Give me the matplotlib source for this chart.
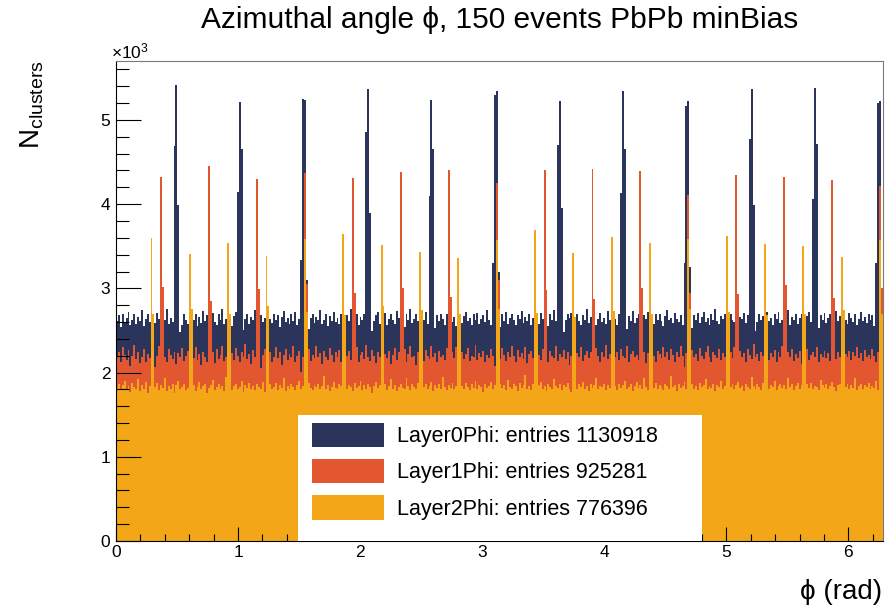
import numpy as np
import matplotlib
matplotlib.use("Agg")
import matplotlib.pyplot as plt
from matplotlib.patches import Patch, Rectangle

plt.rcParams['font.family'] = ['Liberation Sans', 'DejaVu Sans']
plt.rcParams['mathtext.fontset'] = 'custom'
plt.rcParams['mathtext.rm'] = 'Liberation Sans'
plt.rcParams['mathtext.it'] = 'Liberation Sans'

n_bins = 400
edges = np.linspace(0, 2 * np.pi, n_bins + 1)

# Layer 0 (12 staves), counts per bin without the stave-overlap spikes
layer0_base = [
    2610, 2680, 2540, 2700, 2590, 2650, 2720, 2560, 2630, 2690, 2580, 2660, 2610, 2740, 2550, 2640, 2700, 2600, 2670, 2520,
    2590, 2710, 2640, 2560, 2680, 2620, 2750, 2580, 2650, 2600, 2690, 2600, 2600, 2480, 2560, 2700, 2630, 2580, 2670, 2620,
    2620, 2700, 2550, 2660, 2590, 2730, 2610, 2680, 2540, 2650, 2710, 2600, 2570, 2690, 2630, 2760, 2580, 2640, 2690, 2610,
    2550, 2670, 2720, 2600, 2600, 2600, 2510, 2640, 2700, 2580, 2660, 2620, 2740, 2570, 2630, 2680, 2600, 2650, 2710, 2560,
    2640, 2590, 2700, 2620, 2680, 2540, 2660, 2730, 2600, 2650, 2580, 2690, 2610, 2720, 2570, 2640, 2600, 2600, 2600, 2600,
    2520, 2650, 2700, 2590, 2660, 2620, 2740, 2580, 2630, 2690, 2550, 2670, 2610, 2720, 2600, 2650, 2580, 2700, 2640, 2560,
    2680, 2610, 2750, 2590, 2640, 2700, 2570, 2660, 2620, 2690, 2600, 2600, 2600, 2490, 2610, 2680, 2720, 2580, 2650, 2600,
    2710, 2560, 2640, 2690, 2620, 2580, 2730, 2650, 2600, 2670, 2540, 2690, 2620, 2760, 2590, 2640, 2700, 2610, 2570, 2680,
    2630, 2720, 2580, 2650, 2600, 2600, 2530, 2680, 2610, 2700, 2640, 2570, 2690, 2620, 2740, 2600, 2660, 2550, 2700, 2630,
    2590, 2670, 2720, 2610, 2650, 2560, 2690, 2630, 2710, 2580, 2640, 2680, 2600, 2740, 2620, 2570, 2660, 2600, 2600, 2600,
    2540, 2690, 2610, 2720, 2580, 2650, 2700, 2620, 2560, 2680, 2640, 2730, 2590, 2660, 2610, 2700, 2570, 2650, 2690, 2620,
    2580, 2710, 2640, 2600, 2670, 2550, 2690, 2630, 2740, 2610, 2600, 2600, 2600, 2480, 2620, 2690, 2650, 2710, 2580, 2640,
    2700, 2610, 2560, 2680, 2630, 2750, 2590, 2660, 2620, 2690, 2570, 2640, 2710, 2600, 2650, 2580, 2730, 2620, 2670, 2600,
    2640, 2560, 2700, 2620, 2600, 2600, 2520, 2670, 2610, 2730, 2590, 2650, 2690, 2620, 2570, 2680, 2640, 2720, 2600, 2660,
    2580, 2700, 2630, 2690, 2610, 2550, 2670, 2740, 2620, 2650, 2590, 2710, 2640, 2600, 2680, 2570, 2650, 2600, 2600, 2600,
    2530, 2680, 2620, 2710, 2590, 2660, 2720, 2600, 2650, 2570, 2690, 2630, 2750, 2610, 2580, 2670, 2640, 2700, 2560, 2650,
    2690, 2620, 2600, 2730, 2580, 2660, 2640, 2710, 2590, 2680, 2620, 2600, 2600, 2490, 2600, 2700, 2630, 2670, 2580, 2720,
    2610, 2650, 2560, 2690, 2640, 2720, 2590, 2630, 2680, 2600, 2740, 2570, 2660, 2620, 2700, 2580, 2650, 2690, 2610, 2560,
    2670, 2720, 2600, 2640, 2600, 2600, 2530, 2680, 2620, 2710, 2590, 2650, 2700, 2560, 2640, 2730, 2610, 2670, 2590, 2690,
    2630, 2580, 2710, 2650, 2600, 2690, 2570, 2640, 2720, 2610, 2660, 2590, 2700, 2620, 2680, 2550, 2640, 2600, 2600, 2620,
]
# phi of the first bin of each spike, and the bin contents of the spike
layer0_peak_phi = [0.479, 0.998, 1.516, 2.050, 2.568, 3.087, 3.621, 4.139, 4.657, 5.192, 5.710, 6.228]
layer0_peak_vals = [
    [4690, 5420, 3990], [4150, 5210, 4650], [3340, 5250, 5240, 3100],
    [4860, 5370, 3900], [4100, 5240, 4650], [3300, 5300, 5340, 3200],
    [4700, 5225, 3950], [4130, 5345, 4650], [3300, 5170, 5230, 3250],
    [4770, 5365, 3990], [4060, 5380, 4720], [3300, 5205, 5220, 3000],
]

# Layer 1 (16 staves)
layer1_base = [
    2180, 2250, 2120, 2300, 2210, 2150, 2270, 2080, 2200, 2330, 2160, 2240, 2110, 2190, 2280, 2130, 2220, 2170, 2260, 2050,
    2070, 2200, 2310, 2150, 2240, 2190, 2120, 2280, 2210, 2160, 2250, 2100, 2230, 2180, 2290, 2140, 2200, 2260, 2110, 2230,
    2170, 2300, 2150, 2220, 2090, 2250, 2190, 2130, 2200, 2180, 2240, 2110, 2280, 2160, 2210, 2320, 2140, 2190, 2260, 2080,
    2230, 2150, 2290, 2200, 2120, 2250, 2180, 2340, 2160, 2220, 2100, 2270, 2190, 2140, 2230, 2060, 2210, 2280, 2150, 2200,
    2250, 2120, 2190, 2300, 2170, 2240, 2090, 2210, 2280, 2150, 2220, 2180, 2310, 2130, 2200, 2260, 2010, 2190, 2240, 2160,
    2280, 2140, 2210, 2170, 2320, 2190, 2230, 2100, 2260, 2180, 2150, 2290, 2210, 2120, 2240, 2190, 2270, 2130, 2220, 2060,
    2200, 2260, 2150, 2230, 2180, 2300, 2120, 2210, 2250, 2160, 2330, 2190, 2140, 2270, 2200, 2110, 2240, 2180, 2290, 2150,
    2220, 2170, 2260, 2100, 2210, 2290, 2150, 2240, 2190, 2160, 2280, 2130, 2220, 2310, 2180, 2200, 2090, 2250, 2170, 2230,
    2140, 2270, 2200, 2160, 2310, 2190, 2230, 2120, 2260, 2180, 2210, 2150, 2290, 2200, 2110, 2240, 2170, 2300, 2190, 2070,
    2250, 2160, 2220, 2290, 2140, 2200, 2180, 2330, 2150, 2230, 2190, 2260, 2120, 2210, 2170, 2280, 2200, 2080, 2240, 2190,
    2160, 2290, 2210, 2140, 2250, 2180, 2320, 2200, 2130, 2270, 2190, 2230, 2160, 2300, 2110, 2220, 2260, 2170, 2240, 2060,
    2210, 2150, 2280, 2190, 2230, 2120, 2260, 2200, 2170, 2310, 2140, 2220, 2190, 2270, 2160, 2240, 2090, 2200, 2280, 2150,
    2230, 2180, 2300, 2140, 2210, 2260, 2170, 2240, 2190, 2150, 2290, 2200, 2120, 2250, 2180, 2330, 2160, 2220, 2100, 2270,
    2190, 2240, 2150, 2280, 2200, 2170, 2310, 2130, 2220, 2260, 2180, 2210, 2150, 2290, 2190, 2240, 2110, 2230, 2270, 2160,
    2200, 2130, 2260, 2220, 2170, 2300, 2190, 2240, 2150, 2280, 2210, 2120, 2250, 2180, 2320, 2200, 2070, 2230, 2190, 2160,
    2270, 2180, 2220, 2140, 2290, 2200, 2160, 2250, 2310, 2190, 2130, 2240, 2210, 2170, 2280, 2150, 2230, 2190, 2260, 2080,
    2240, 2170, 2300, 2200, 2150, 2260, 2190, 2230, 2120, 2280, 2210, 2160, 2340, 2180, 2220, 2140, 2250, 2200, 2170, 2290,
    2150, 2230, 2190, 2270, 2120, 2240, 2180, 2310, 2200, 2160, 2250, 2190, 2280, 2140, 2220, 2170, 2260, 2100, 2230, 2190,
    2280, 2150, 2210, 2240, 2180, 2300, 2130, 2220, 2190, 2260, 2170, 2230, 2140, 2290, 2200, 2160, 2250, 2190, 2320, 2110,
    2220, 2180, 2260, 2150, 2240, 2200, 2300, 2170, 2230, 2140, 2270, 2190, 2210, 2160, 2280, 2200, 2130, 2250, 2190, 2230,
]
layer1_peak_phi = [0.369, 0.762, 1.154, 1.547, 1.940, 2.333, 2.725, 3.118,
                   3.511, 3.903, 4.296, 4.689, 5.082, 5.474, 5.867, 6.260]
layer1_peak_main = [4320, 4450, 4300, 4370, 4310, 4385, 4400, 4250,
                    4400, 4420, 4390, 4110, 4350, 4320, 4290, 4215]
layer1_peak_next = [3020, 2850, 2990, 3050, 2950, 3000, 2900, 3100,
                    2980, 2870, 3010, 2950, 2930, 3040, 2880, 3000]

# Layer 2 (20 staves)
layer2_base = [
    1820, 1870, 1790, 1850, 1900, 1810, 1840, 1770, 1880, 1830, 1800, 1920, 1780, 1850, 1810, 1890, 1760, 1840, 1860, 1800,
    1830, 1880, 1790, 1850, 1820, 1940, 1780, 1840, 1810, 1870, 1760, 1850, 1900, 1800, 1830, 1860, 1790, 1820, 1880, 1810,
    1850, 1780, 1830, 1890, 1800, 1840, 1870, 1760, 1820, 1850, 1910, 1790, 1830, 1860, 1800, 1840, 1780, 1950, 1820, 1850,
    1790, 1840, 1870, 1810, 1830, 1900, 1770, 1850, 1820, 1880, 1800, 1840, 1790, 1860, 1830, 1810, 1890, 1770, 1840, 1820,
    1860, 1800, 1830, 1880, 1790, 1850, 1820, 1930, 1780, 1840, 1810, 1870, 1830, 1790, 1850, 1900, 1810, 1840, 1770, 1830,
    1880, 1820, 1790, 1850, 1830, 1870, 1800, 1840, 1960, 1810, 1850, 1780, 1830, 1890, 1820, 1800, 1860, 1840, 1790, 1870,
    1810, 1850, 1830, 1780, 1880, 1820, 1840, 1900, 1790, 1850, 1810, 1870, 1830, 1760, 1840, 1890, 1820, 1850, 1800, 1830,
    1860, 1790, 1840, 1920, 1810, 1850, 1780, 1830, 1870, 1820, 1800, 1940, 1840, 1790, 1860, 1830, 1810, 1880, 1770, 1850,
    1830, 1870, 1800, 1840, 1890, 1780, 1850, 1820, 1860, 1810, 1950, 1830, 1790, 1850, 1820, 1880, 1800, 1840, 1860, 1790,
    1840, 1810, 1880, 1830, 1790, 1860, 1820, 1900, 1800, 1850, 1830, 1770, 1870, 1820, 1840, 1890, 1810, 1850, 1780, 1840,
    1870, 1820, 1850, 1790, 1910, 1830, 1800, 1860, 1840, 1780, 1880, 1820, 1850, 1970, 1810, 1840, 1790, 1860, 1830, 1800,
    1850, 1890, 1810, 1840, 1780, 1870, 1830, 1800, 1920, 1840, 1820, 1860, 1790, 1850, 1830, 1880, 1810, 1770, 1850, 1830,
    1800, 1860, 1830, 1890, 1810, 1840, 1780, 1870, 1820, 1850, 1940, 1800, 1840, 1830, 1870, 1790, 1850, 1820, 1880, 1810,
    1840, 1790, 1870, 1820, 1850, 1900, 1810, 1830, 1860, 1780, 1840, 1890, 1820, 1850, 1800, 1930, 1830, 1790, 1860, 1840,
    1820, 1880, 1800, 1850, 1830, 1790, 1870, 1840, 1810, 1960, 1830, 1850, 1780, 1860, 1820, 1840, 1890, 1800, 1850, 1830,
    1870, 1810, 1840, 1790, 1880, 1830, 1850, 1920, 1800, 1840, 1820, 1860, 1780, 1850, 1830, 1900, 1810, 1840, 1870, 1800,
    1830, 1860, 1800, 1850, 1890, 1820, 1840, 1780, 1870, 1830, 1810, 1950, 1840, 1800, 1860, 1830, 1790, 1880, 1820, 1850,
    1810, 1850, 1830, 1900, 1790, 1840, 1870, 1820, 1850, 1800, 1930, 1830, 1860, 1790, 1840, 1880, 1810, 1850, 1830, 1770,
    1860, 1820, 1880, 1800, 1840, 1830, 1790, 1910, 1850, 1820, 1860, 1800, 1840, 1890, 1830, 1780, 1850, 1870, 1810, 1840,
    1830, 1870, 1800, 1850, 1820, 1940, 1790, 1840, 1860, 1810, 1850, 1830, 1880, 1800, 1840, 1820, 1900, 1790, 1850, 1830,
]
layer2_peak_phi = [0.291, 0.605, 0.919, 1.233, 1.548, 1.862, 2.176, 2.490, 2.804, 3.118,
                   3.432, 3.747, 4.061, 4.375, 4.689, 5.003, 5.317, 5.631, 5.946, 6.260]
layer2_peak_main = [3600, 3410, 3540, 3385, 3590, 3645, 3515, 3430, 3360, 3575,
                    3690, 3425, 3610, 3540, 3590, 3620, 3530, 3500, 3370, 3575]
layer2_peak_next = [2690, 2750, 2700, 2790, 2720, 2680, 2790, 2740, 2700, 2760,
                    2710, 2660, 2730, 2690, 2750, 2720, 2680, 2700, 2740, 2700]

labels = ["Layer0Phi: entries 1130918", "Layer1Phi: entries 925281", "Layer2Phi: entries 776396"]
colors = ["#2b345a", "#e35730", "#f3a718"]


def with_peaks(base, phis, vals):
    counts = np.array(base, dtype=float)
    for phi, v in zip(phis, vals):
        i = np.searchsorted(edges, phi) - 1
        counts[i:i + len(v)] = v
    return counts


h0 = with_peaks(layer0_base, layer0_peak_phi, layer0_peak_vals)
h1 = with_peaks(layer1_base, layer1_peak_phi, [[a, b] for a, b in zip(layer1_peak_main, layer1_peak_next)])
h2 = with_peaks(layer2_base, layer2_peak_phi, [[a, b] for a, b in zip(layer2_peak_main, layer2_peak_next)])

fig = plt.figure(figsize=(8.86, 6.10), dpi=100)
ax = fig.add_axes([116 / 886, 1 - 541 / 610, 767 / 886, 480 / 610])

for h, c in zip([h0, h1, h2], colors):
    ax.stairs(h, edges, fill=True, color=c, lw=0)

ax.set_xlim(0, 2 * np.pi)
ax.set_ylim(0, 5700)
ax.set_yticks(np.arange(0, 5001, 1000))
ax.set_yticklabels([str(k) for k in range(6)])
ax.set_yticks(np.arange(0, 5700, 200), minor=True)
ax.set_xticks(np.arange(0, 7, 1))
ax.set_xticks(np.arange(0, 6.3, 0.2), minor=True)
ax.tick_params(axis='y', which='major', direction='in', length=18, width=0.8, labelsize=12.5, pad=4, right=False)
ax.tick_params(axis='y', which='minor', direction='in', length=9, width=0.8, right=False)
ax.tick_params(axis='x', which='major', direction='in', length=10, width=0.8, labelsize=12.5, pad=3, top=False)
ax.tick_params(axis='x', which='minor', direction='in', length=5, width=0.8, top=False)
for s in ['top', 'right']:
    ax.spines[s].set_color('#7a7a7a')
for s in ['left', 'bottom']:
    ax.spines[s].set_color('black')

# legend box sitting on the x axis
ax.add_patch(Rectangle((0.237, 0.0), 0.527, 0.2625, transform=ax.transAxes,
                       facecolor='white', edgecolor='none', zorder=4))
handles = [Patch(facecolor=c, edgecolor='none') for c in colors]
ax.legend(handles, labels, loc='upper left', bbox_to_anchor=((312 - 116) / 767, (541 - 422.7) / 480),
          frameon=False, fontsize=15.5, handlelength=3.35, handleheight=1.37, handletextpad=0.6,
          labelspacing=0.55, borderpad=0, borderaxespad=0)

fig.text(500 / 886, 1 - 20 / 610, "Azimuthal angle ϕ, 150 events PbPb minBias",
         ha='center', va='center', fontsize=21.5)
fig.text(32 / 886, 1 - 60 / 610, r"N$_{\mathrm{clusters}}$", rotation=90,
         ha='center', va='top', fontsize=20)
fig.text(882 / 886, 1 - 592 / 610, "ϕ (rad)", ha='right', va='center', fontsize=20)
fig.text(111 / 886, 1 - 51 / 610, r"$\times$10$^{3}$", ha='left', va='center', fontsize=12.5)

fig.savefig("out.png", dpi=100)
